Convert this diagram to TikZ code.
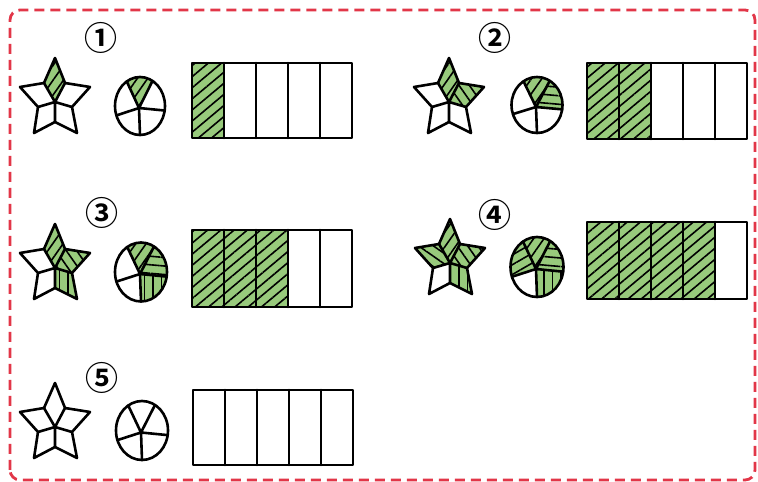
\documentclass[tikz,border=0pt]{standalone}
\usepackage{fontspec}
\newfontfamily\cjk{Noto Sans CJK SC}[BoldFont={Noto Sans CJK SC Bold}]
\usetikzlibrary{patterns.meta}
\definecolor{hgreen}{RGB}{152,202,124}
\definecolor{bred}{RGB}{226,54,72}
\tikzset{
  outl/.style={line width=2.6pt, line join=round, line cap=round, draw=black},
  hatchfill/.style={preaction={fill=hgreen}, pattern={Lines[angle=#1,distance=8.5pt,line width=1.6pt]}, pattern color=black},
  numlabel/.style={font=\cjk\bfseries\fontsize{33}{34}\selectfont, inner sep=0pt}
}
\newcommand\starfig[3]{%
\begin{scope}[shift={(#1,#2)}]
 \coordinate (sC) at (0,0);
 \coordinate (sT) at (0,44);
 \coordinate (sL) at (-35,15);
 \coordinate (sR) at (35,15);
 \coordinate (sBL) at (-21,-31);
 \coordinate (sBR) at (22,-31);
 \coordinate (sTL) at (-11,19);
 \coordinate (sTR) at (10,19);
 \coordinate (siL) at (-17,-5);
 \coordinate (siR) at (17,-5);
 \coordinate (siB) at (0,-20);
 \ifnum#3>0 \path[hatchfill=55] (sC)--(sTL)--(sT)--(sTR)--cycle;\fi
 \ifnum#3>1 \path[hatchfill=125] (sC)--(sTR)--(sR)--(siR)--cycle;\fi
 \ifnum#3>2 \path[hatchfill=90] (sC)--(siR)--(sBR)--(siB)--cycle;\fi
 \ifnum#3>3 \path[hatchfill=145] (sC)--(siL)--(sL)--(sTL)--cycle;\fi
 \draw[outl] (sT)--(sTR)--(sR)--(siR)--(sBR)--(siB)--(sBL)--(siL)--(sL)--(sTL)--cycle;
 \draw[outl] (sTL)--(sC)--(sTR) (siL)--(sC)--(siR) (sC)--(siB);
\end{scope}}
\newcommand\piefig[5]{%
\begin{scope}[shift={(#1,#2)}]
 \coordinate (h) at (-1,-2);
 \ifnum#5>0 \path[hatchfill=55] (h) -- (60:#3 and #4) arc[start angle=60,end angle=122,x radius=#3,y radius=#4] -- cycle;\fi
 \ifnum#5>1 \path[hatchfill=-5] (h) -- (-9:#3 and #4) arc[start angle=-9,end angle=60,x radius=#3,y radius=#4] -- cycle;\fi
 \ifnum#5>2 \path[hatchfill=90] (h) -- (270:#3 and #4) arc[start angle=270,end angle=351,x radius=#3,y radius=#4] -- cycle;\fi
 \ifnum#5>3 \path[hatchfill=30] (h) -- (122:#3 and #4) arc[start angle=122,end angle=199,x radius=#3,y radius=#4] -- cycle;\fi
 \draw[outl] (0,0) ellipse [x radius=#3, y radius=#4];
 \draw[outl] (h) -- (60:#3 and #4) (h) -- (122:#3 and #4) (h) -- (199:#3 and #4) (h) -- (270:#3 and #4) (h) -- (351:#3 and #4);
\end{scope}}
\newcommand\barfig[5]{%
\begin{scope}[shift={(#1,#2)}]
 \pgfmathsetmacro\cw{#3/5}
 \ifnum#5>0
 \foreach \i in {1,...,#5} {\path[hatchfill=40] ({(\i-1)*\cw},0) rectangle ({\i*\cw},#4);}
 \fi
 \draw[outl] (0,0) rectangle (#3,#4);
 \foreach \i in {1,...,4} {\draw[outl] ({\i*\cw},0) -- ({\i*\cw},#4);}
\end{scope}}
\begin{document}
\begin{tikzpicture}[x=1pt,y=1pt]
\useasboundingbox (0,0) rectangle (758,482);
\fill[white] (0,0) rectangle (758,482);
\draw[bred, line width=2.8pt, dash pattern=on 10pt off 6pt, rounded corners=10pt] (10,2) rectangle (755,472);
% group 1
\node[numlabel] (n1) at (101,444) {①};
\starfig{55}{380}{1}
\piefig{140}{376}{25}{29}{1}
\barfig{192}{344}{160}{75}{1}
% group 2
\node[numlabel] (n2) at (495,444) {②};
\starfig{449}{380}{2}
\piefig{537}{377}{25.5}{28}{2}
\barfig{587}{343}{160}{76}{2}
% group 3
\node[numlabel] (n3) at (102,269) {③};
\starfig{55}{214}{3}
\piefig{141}{210}{26}{29.5}{3}
\barfig{192}{175}{160}{77}{3}
% group 4
\node[numlabel] (n4) at (495,267) {④};
\starfig{450}{219}{4}
\piefig{537}{215}{26.5}{30}{4}
\barfig{587}{183}{160}{77}{4}
% group 5
\node[numlabel] (n5) at (102,104) {⑤};
\starfig{55}{55}{0}
\piefig{142}{51.5}{26}{29.5}{0}
\barfig{193}{17}{160}{75}{0}
\end{tikzpicture}
\end{document}
